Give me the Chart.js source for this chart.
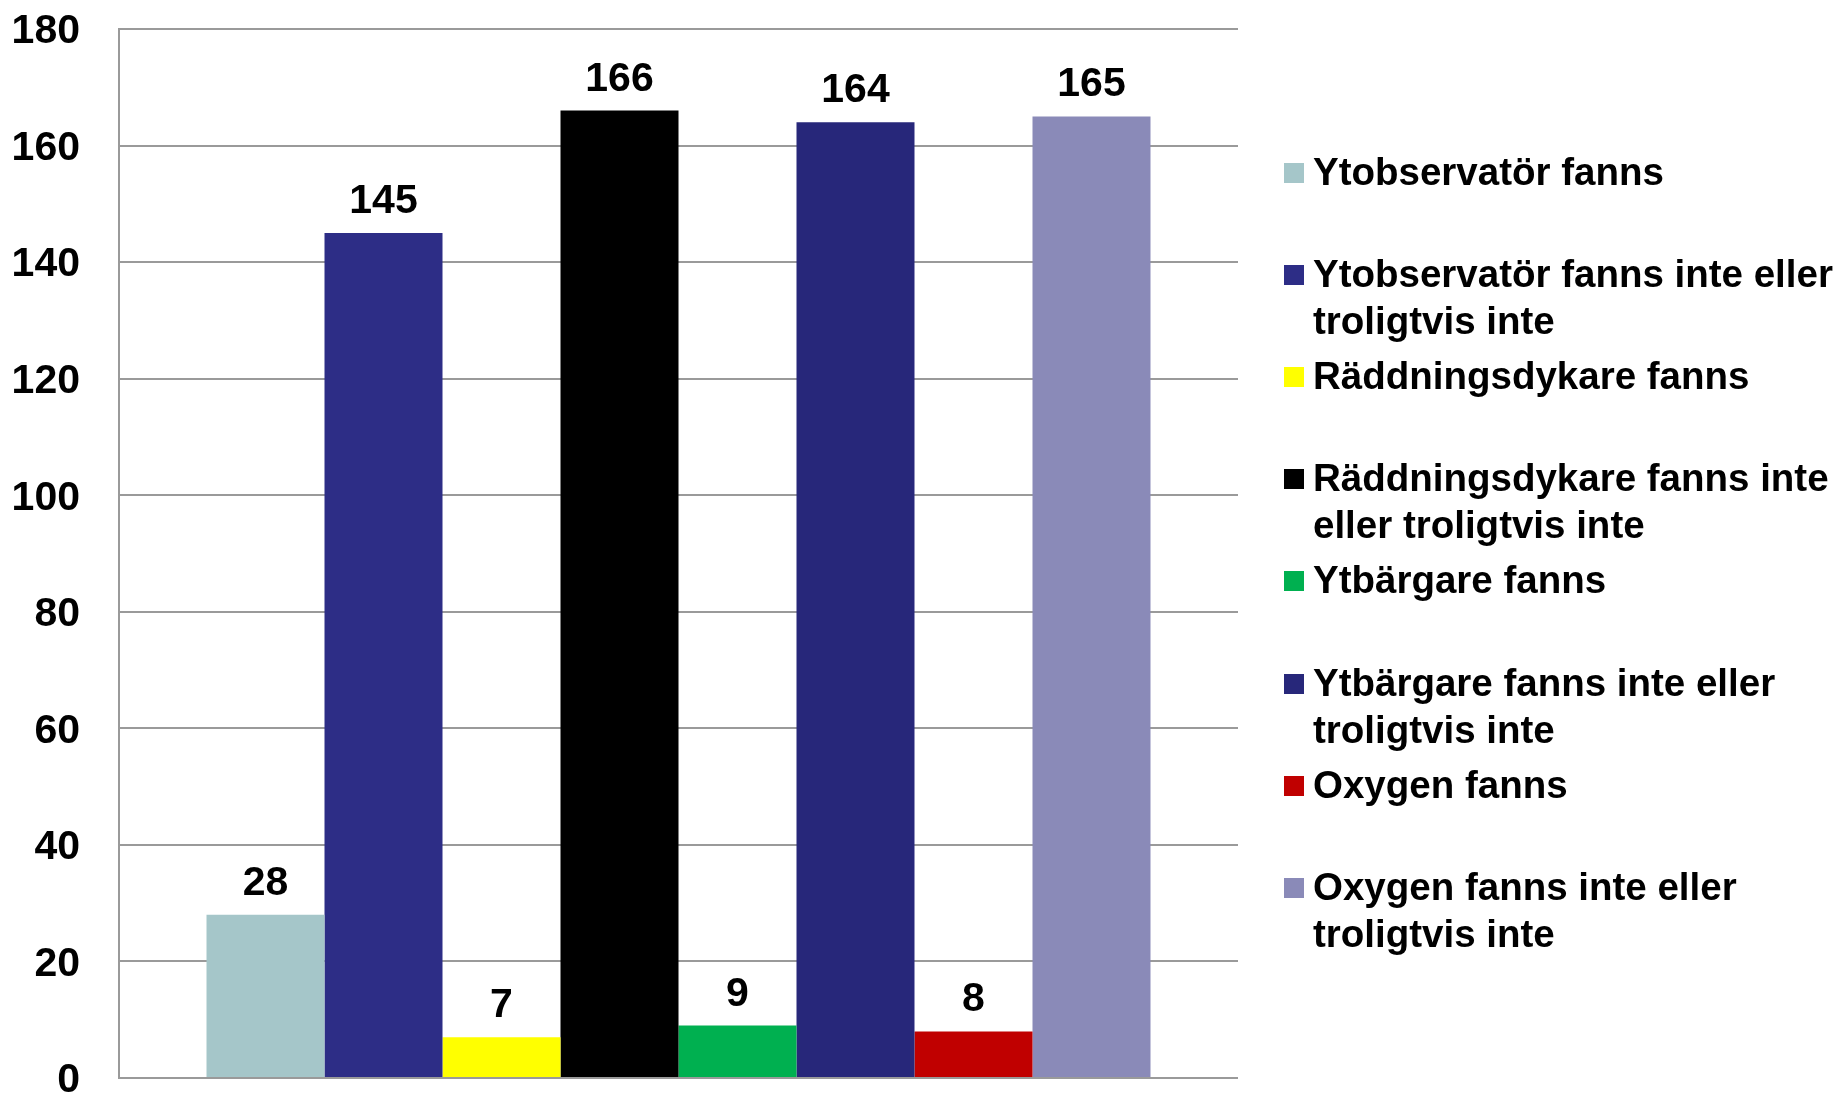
<!DOCTYPE html>
<html>
<head>
<meta charset="utf-8">
<script src="https://cdn.jsdelivr.net/npm/chart.js@4/dist/chart.umd.min.js"></script>
<style>
  html, body { margin: 0; padding: 0; background: #fff; overflow: hidden; }
  #wrap { position: relative; width: 1847px; height: 1094px; overflow: hidden; }
  #graph { position: absolute; left: 0; top: 0; }
  #legend { position: absolute; left: 1284px; top: 0; }
  .item { position: absolute; left: 0; font: bold 38.5px "Liberation Sans", Arial, sans-serif; line-height: 47px; color: #000; }
  .swatch { position: absolute; left: 0; top: 15px; width: 20px; height: 20px; }
  .txt { position: absolute; left: 29px; top: 0; width: 535px; }
</style>
</head>
<body>
<div id="wrap">
  <canvas id="graph" width="1847" height="1094"></canvas>
  <div id="legend"></div>
</div>
<script>
var seriesNames = [
    'Ytobservatör fanns',
    'Ytobservatör fanns inte eller troligtvis inte',
    'Räddningsdykare fanns',
    'Räddningsdykare fanns inte eller troligtvis inte',
    'Ytbärgare fanns',
    'Ytbärgare fanns inte eller troligtvis inte',
    'Oxygen fanns',
    'Oxygen fanns inte eller troligtvis inte'
];
var values = [28, 145, 7, 166, 9, 164, 8, 165];
var colors = ['#A5C6C9', '#2D2D86', '#FFFF00', '#000000', '#00B050', '#27277A', '#C00000', '#8A8AB8'];
var yTicks = [0, 20, 40, 60, 80, 100, 120, 140, 160, 180];

var fontFamily = '"Liberation Sans", Arial, sans-serif';

// value labels above each bar
var valueLabels = {
    id: 'valueLabels',
    afterDatasetsDraw: function (chart) {
        var ctx = chart.ctx;
        ctx.save();
        ctx.font = 'bold 41px ' + fontFamily;
        ctx.fillStyle = '#000';
        ctx.textAlign = 'center';
        ctx.textBaseline = 'alphabetic';
        chart.data.datasets.forEach(function (ds, i) {
            var bar = chart.getDatasetMeta(i).data[0];
            ctx.fillText(String(ds.data[0]), bar.x, bar.y - 20);
        });
        ctx.restore();
    }
};

var datasets = seriesNames.map(function (name, i) {
    return {
        label: name,
        data: [values[i]],
        backgroundColor: colors[i],
        borderWidth: 0,
        categoryPercentage: 0.8436,
        barPercentage: 1
    };
});

var ctx = document.getElementById('graph').getContext('2d');
var myChart = new Chart(ctx, {
    type: 'bar',
    data: {
        labels: [''],
        datasets: datasets
    },
    options: {
        responsive: false,
        animation: false,
        layout: {
            padding: { left: 0, right: 609, top: 29, bottom: 16 }
        },
        scales: {
            x: {
                display: false
            },
            y: {
                min: 0,
                max: 180,
                afterBuildTicks: function (scale) {
                    scale.ticks = yTicks.map(function (v) { return { value: v }; });
                },
                afterFit: function (scale) {
                    scale.width = 119;
                    scale.paddingTop = 0;
                    scale.paddingBottom = 0;
                },
                ticks: {
                    color: '#000',
                    padding: 39,
                    labelOffset: 3,
                    font: { family: fontFamily, size: 41, weight: 'bold' }
                },
                grid: {
                    color: '#9A9A9A',
                    lineWidth: 2,
                    drawTicks: false
                },
                border: {
                    color: '#9A9A9A',
                    width: 2
                }
            }
        },
        plugins: {
            legend: { display: false },
            tooltip: { enabled: false }
        }
    },
    plugins: [valueLabels]
});

// legend on the right, one slot per series
var legend = document.getElementById('legend');
seriesNames.forEach(function (name, i) {
    var item = document.createElement('div');
    item.className = 'item';
    item.style.top = (147.6 + 102.2 * i) + 'px';
    var sw = document.createElement('div');
    sw.className = 'swatch';
    sw.style.background = colors[i];
    var txt = document.createElement('div');
    txt.className = 'txt';
    txt.textContent = name;
    item.append(sw, txt);
    legend.append(item);
});
</script>
</body>
</html>
